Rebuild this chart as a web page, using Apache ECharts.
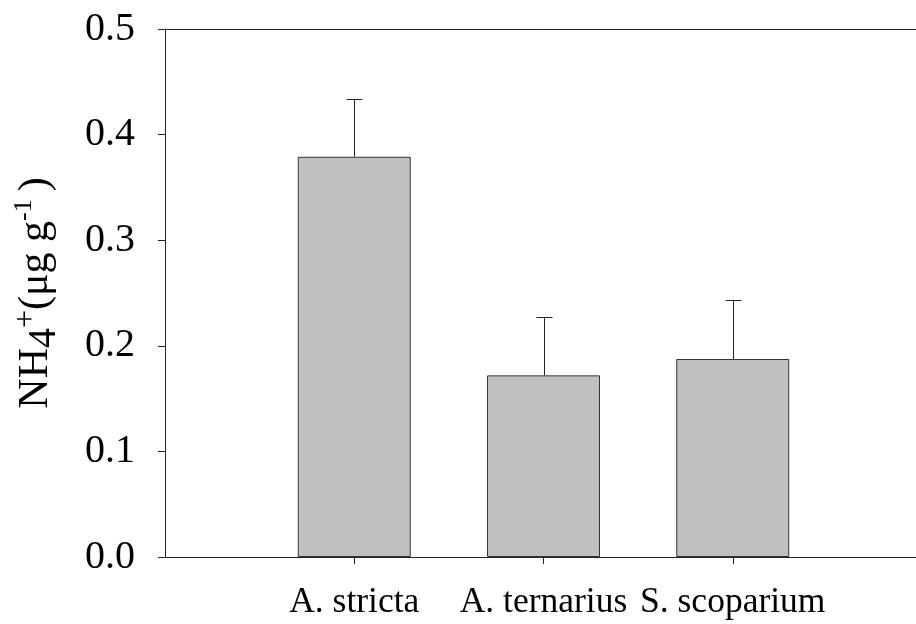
<!DOCTYPE html>
<html><head><meta charset="utf-8">
<script src="https://cdn.jsdelivr.net/npm/echarts@6/dist/echarts.min.js"></script>
<style>html,body{margin:0;padding:0;background:#fff}#c{width:916px;height:624px}</style>
</head><body><div id="c"></div>
<script>
const categories = ['', 'A. stricta', 'A. ternarius', 'S. scoparium', ''];
const means = ['-', 0.379, 0.172, 0.1875, '-'];
const upperErr = ['-', 0.434, 0.227, 0.243, '-'];
const yTicks = [0, 0.1, 0.2, 0.3, 0.4, 0.5];

const FONT = '"Liberation Serif", "Times New Roman", serif';
const chart = echarts.init(document.getElementById('c'), null, {renderer: 'canvas'});
const shown = (i) => i >= 1 && i <= 3;
chart.setOption({
  animation: false,
  backgroundColor: '#fff',
  grid: {left: 165, top: 29, width: 757, height: 528, outerBoundsMode: 'none', containLabel: false,
         show: false},
  xAxis: [{
    type: 'category', data: categories, boundaryGap: false,
    axisLine: {lineStyle: {color: '#222', width: 1}},
    axisTick: {show: true, length: 7, interval: (i) => shown(i), lineStyle: {color: '#222'}},
    axisLabel: {interval: (i) => shown(i), margin: 28, fontSize: 35.5, fontFamily: FONT, color: '#000'},
    splitLine: {show: false}
  }, {
    type: 'category', data: categories, boundaryGap: false, position: 'top',
    axisLine: {show: true, lineStyle: {color: '#222', width: 1}},
    axisTick: {show: false}, axisLabel: {show: false}, splitLine: {show: false}
  }],
  yAxis: {
    type: 'value', min: 0, max: 0.5, interval: 0.1,
    axisLine: {show: true, lineStyle: {color: '#222', width: 1}},
    axisTick: {show: true, length: 7, inside: false, lineStyle: {color: '#222'}},
    axisLabel: {margin: 30, fontSize: 40, fontFamily: FONT, color: '#000', formatter: (v) => yTicks.indexOf(Math.round(v*10)/10) >= 0 ? v.toFixed(1) : ''},
    splitLine: {show: false},
    name: '{n|NH}{s|4}{p|+}{n|(μg g}{q|-1}{n|)}',
    nameLocation: 'middle', nameGap: 108, nameRotate: 90,
    nameTextStyle: {
      fontFamily: FONT, color: '#000',
      rich: {
        n: {fontSize: 42, fontFamily: FONT, color: '#000', verticalAlign: 'bottom', lineHeight: 46},
        s: {fontSize: 40, fontFamily: FONT, color: '#000', verticalAlign: 'bottom', lineHeight: 46, padding: [0,0,-7,0]},
        p: {fontSize: 32, fontFamily: FONT, color: '#000', verticalAlign: 'top', lineHeight: 46, padding: [0,0,0,0]},
        q: {fontSize: 26, fontFamily: FONT, color: '#000', verticalAlign: 'top', lineHeight: 46, padding: [0,8,0,0]}
      }
    }
  },
  series: [
    {
      type: 'bar', data: means, barWidth: 113,
      itemStyle: {color: '#c0c0c0', borderColor: '#333', borderWidth: 1},
      z: 2
    },
    {
      type: 'custom', z: 3,
      data: upperErr.map((v, i) => [i, means[i], v]),
      renderItem: function (params, api) {
        const m = api.value(1), e = api.value(2);
        if (isNaN(m) || isNaN(e)) return null;
        const b = api.coord([api.value(0), m]);
        const t = api.coord([api.value(0), e]);
        const x = Math.round(b[0]) + 0.5;
        return {type: 'group', children: [
          {type: 'line', shape: {x1: x, y1: b[1], x2: x, y2: t[1]}, style: {stroke: '#222', lineWidth: 1}},
          {type: 'line', shape: {x1: x - 8, y1: Math.round(t[1]) + 0.5, x2: x + 8, y2: Math.round(t[1]) + 0.5}, style: {stroke: '#222', lineWidth: 1}}
        ]};
      }
    }
  ]
});
</script></body></html>
